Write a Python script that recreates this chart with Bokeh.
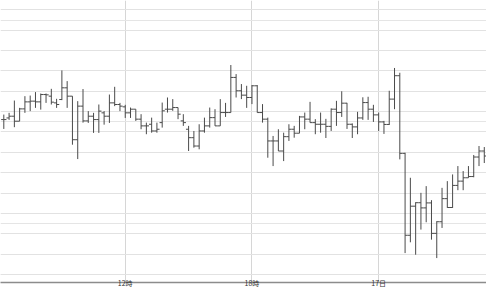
from bokeh.plotting import figure
from bokeh.models import Range1d, FixedTicker, Grid, SingleIntervalTicker, Label, ColumnDataSource
from bokeh.transform import dodge
from bokeh.embed import file_html
from bokeh.resources import INLINE

# ---- data (15-minute OHLC bars) ----
bar_index = list(range(92))
open_ = [252.2, 253.8, 255.5, 250.6, 262.7, 269.6, 270.3, 269.6, 276.8, 275.2,
         268.6, 271.9, 283.4, 275.2, 232.4, 265.4, 250.9, 255.5, 252.2, 258.8,
         255.5, 268.6, 267.0, 264.7, 258.8, 262.4, 252.6, 246.0, 247.6, 241.0,
         249.2, 262.4, 262.4, 264.0, 250.9, 242.7, 234.4, 226.2, 241.0, 246.0,
         254.1, 246.0, 259.1, 259.1, 293.6, 280.5, 276.2, 273.9, 285.4, 259.1,
         252.6, 231.2, 231.2, 221.3, 235.4, 242.7, 238.8, 254.8, 252.6, 249.2,
         247.6, 247.6, 245.5, 262.4, 259.1, 268.3, 247.6, 245.0, 253.8, 268.9,
         262.4, 256.8, 249.9, 247.4, 272.3, 295.3, 219.0, 138.5, 167.1, 170.5,
         165.4, 170.3, 140.4, 151.8, 174.5, 165.8, 187.5, 191.7, 195.0, 196.2,
         215.4, 221.3]
high = [257.1, 258.8, 270.9, 263.7, 275.2, 275.8, 279.2, 277.8, 277.8, 282.4,
        272.6, 300.5, 290.0, 275.2, 270.3, 282.2, 260.5, 258.8, 267.0, 260.5,
        276.8, 284.4, 268.6, 266.7, 264.0, 262.4, 257.5, 249.2, 254.1, 249.2,
        268.9, 273.9, 272.3, 264.0, 257.5, 246.0, 241.0, 247.6, 254.1, 264.0,
        262.4, 272.3, 268.6, 305.8, 296.9, 287.1, 285.4, 286.1, 286.1, 267.4,
        254.1, 236.1, 242.7, 239.3, 247.6, 246.0, 255.8, 259.1, 269.6, 252.6,
        259.1, 252.9, 263.2, 270.6, 280.0, 268.6, 248.4, 259.8, 274.1, 274.6,
        266.7, 259.1, 250.9, 280.5, 302.9, 298.2, 219.6, 195.0, 171.0, 180.2,
        186.8, 173.0, 152.3, 185.1, 191.7, 198.3, 206.5, 201.6, 206.5, 217.4,
        226.2, 225.2]
low = [243.0, 251.9, 244.7, 250.6, 258.8, 260.5, 263.7, 262.0, 268.6, 267.0,
       263.7, 271.3, 263.7, 227.5, 213.4, 249.2, 248.9, 239.1, 239.1, 247.2,
       248.9, 265.4, 260.5, 253.8, 253.8, 250.9, 242.7, 237.8, 239.3, 239.3,
       244.3, 259.1, 260.8, 252.6, 246.0, 221.3, 224.6, 223.0, 239.3, 244.3,
       246.0, 246.0, 254.8, 259.1, 273.9, 272.3, 263.7, 267.4, 259.1, 249.2,
       214.7, 206.5, 221.3, 211.4, 231.2, 234.4, 238.8, 242.7, 249.2, 237.8,
       239.3, 234.1, 241.0, 246.0, 254.8, 243.0, 234.1, 237.8, 251.9, 251.9,
       249.9, 241.0, 238.1, 246.9, 262.4, 213.1, 121.0, 131.6, 119.4, 144.1,
       151.3, 134.2, 116.1, 145.7, 165.4, 165.4, 182.8, 182.8, 195.0, 195.5,
       206.5, 209.5]
close = [252.2, 255.5, 250.6, 262.7, 269.6, 270.3, 269.6, 276.8, 276.5, 269.3,
         267.0, 283.4, 275.2, 232.4, 265.4, 250.9, 255.5, 252.2, 260.5, 255.5,
         268.6, 267.0, 265.4, 258.8, 262.4, 252.6, 246.0, 246.0, 241.0, 242.7,
         260.8, 262.4, 264.0, 257.5, 249.2, 234.4, 226.2, 241.0, 246.0, 254.1,
         246.0, 259.1, 259.1, 293.6, 280.5, 276.2, 273.9, 285.4, 259.1, 252.6,
         231.2, 231.2, 221.3, 235.4, 242.7, 238.8, 254.8, 252.6, 249.2, 247.6,
         247.6, 245.5, 262.4, 259.1, 268.3, 247.6, 245.0, 253.8, 268.9, 262.4,
         256.8, 249.9, 247.4, 272.3, 295.3, 219.0, 138.5, 167.1, 170.5, 165.4,
         170.3, 140.4, 151.8, 174.5, 165.8, 187.5, 191.7, 195.0, 196.2, 215.4,
         221.3, 216.4]

tick_positions = [-1, 23, 47, 71]
tick_labels = ["6時", "12時", "18時", "17日"]

# ---- figure ----
src = ColumnDataSource(dict(x=bar_index, o=open_, h=high, l=low, c=close))

y_lo, y_hi = 92.1, 369.2
p = figure(width=486, height=290,
           x_range=Range1d(-0.625, 91.42), y_range=Range1d(y_lo, y_hi),
           output_backend="svg", toolbar_location=None,
           y_axis_location=None, min_border=0,
           outline_line_color=None, background_fill_color="white",
           border_fill_color="white")

p.add_layout(Grid(dimension=1, ticker=SingleIntervalTicker(interval=20),
                  grid_line_color="#e2e2e2", grid_line_width=1))

xt = FixedTicker(ticks=tick_positions)
p.xaxis.ticker = xt
p.xaxis.major_label_overrides = {k: v for k, v in zip(tick_positions, tick_labels)}
p.xaxis.major_tick_in = 0
p.xaxis.major_tick_out = 0
p.xaxis.minor_tick_in = 0
p.xaxis.minor_tick_out = 0
p.xaxis.minor_tick_line_color = None
p.xaxis.axis_line_color = "#8c8c8c"
p.xaxis.axis_line_width = 1.5
p.xaxis.major_label_standoff = -5
p.xaxis.axis_label_standoff = 0
p.xaxis.major_label_text_font = "Noto Sans CJK JP"
p.xaxis.major_label_text_font_size = "7px"
p.xaxis.major_label_text_color = "#333333"
p.xgrid.ticker = xt
p.xgrid.grid_line_color = "#d6d6d6"

bar_color = "#4a4a4a"
p.segment(x0="x", y0="h", x1="x", y1="l", source=src, line_color=bar_color, line_width=1)
p.segment(x0=dodge("x", -0.5), y0="o", x1="x", y1="o", source=src, line_color=bar_color, line_width=1)
p.segment(x0="x", y0="c", x1=dodge("x", 0.5), y1="c", source=src, line_color=bar_color, line_width=1)

# the first tick lies just left of the visible range; its label is cut by the edge as in the reference
p.add_layout(Label(x=tick_positions[0], y=y_lo - 5.5, text=tick_labels[0],
                   text_align="center", text_baseline="middle",
                   text_font="Noto Sans CJK JP", text_font_size="7px",
                   text_color="#333333"))

open("out.html", "w").write(file_html(p, INLINE))
